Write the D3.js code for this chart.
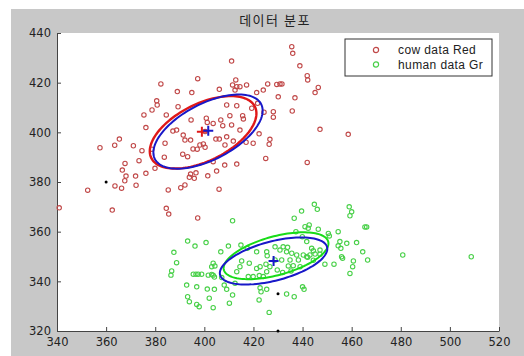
<!DOCTYPE html>
<html>
<head>
<meta charset="utf-8">
<script src="https://cdn.jsdelivr.net/npm/d3@7"></script>
<style>
  html, body { margin: 0; padding: 0; background: #fff; }
  svg { display: block; }
  .tick text { font-family: "DejaVu Sans", sans-serif; font-size: 11.5px; fill: #222; }
</style>
</head>
<body>
<div id="chart"></div>
<script>
// tick labels
const xTicks = [340, 360, 380, 400, 420, 440, 460, 480, 500, 520];
const yTicks = [320, 340, 360, 380, 400, 420, 440];

// cow data (red)
const cowX = [382.3, 397.3, 389.0, 394.9, 406.1, 380.6, 380.8, 378.7, 375.4, 384.5,
  389.3, 376.2, 394.6, 400.8, 401.2, 403.6, 406.7, 409.1, 388.7, 387.2,
  391.4, 394.4, 392.1, 365.4, 363.5, 357.5, 371.1, 374.6, 378.6, 400.3,
  404.7, 406.1, 384.0, 391.2, 395.4, 397.1, 398.2, 400.3, 399.6, 393.2,
  383.7, 373.4, 367.7, 379.9, 366.6, 376.2, 368.1, 367.6, 372.0, 394.4,
  393.9, 395.9, 396.6, 401.4, 405.0, 403.6, 408.3, 363.6, 366.3, 372.2,
  390.4, 392.1, 385.3, 406.0, 362.5, 384.5, 385.5, 397.3, 340.9, 352.5,
  435.6, 436.0, 411.1, 438.9, 441.9, 442.1, 446.4, 445.1, 412.8, 411.5,
  413.2, 414.5, 412.5, 417.2, 421.3, 424.0, 425.8, 429.5, 430.8, 431.6,
  430.1, 436.9, 413.2, 421.7, 419.3, 424.3, 428.1, 435.8, 428.1, 410.4,
  415.6, 415.9, 407.5, 411.1, 414.5, 422.3, 447.1, 458.6, 409.1, 411.8,
  426.7, 426.4, 417.0, 419.9, 408.4, 425.0, 413.2, 441.9];
const cowY = [419.5, 421.6, 416.4, 416.0, 417.3, 412.7, 411.0, 409.0, 407.0, 407.0,
  410.3, 401.9, 405.0, 405.7, 404.0, 403.6, 405.0, 411.0, 400.9, 400.5,
  398.9, 396.9, 396.9, 397.3, 394.8, 393.8, 394.6, 392.6, 393.2, 400.3,
  397.3, 397.3, 395.6, 391.2, 393.3, 393.2, 394.9, 394.0, 395.3, 390.2,
  390.0, 388.6, 387.5, 385.5, 384.8, 383.5, 382.4, 380.5, 382.4, 383.2,
  381.9, 381.5, 383.7, 382.5, 384.4, 388.2, 386.8, 378.4, 377.5, 378.7,
  377.7, 378.8, 376.8, 377.1, 368.7, 369.4, 367.1, 365.5, 369.6, 376.7,
  434.5, 431.8, 428.7, 426.8, 422.8, 421.1, 418.1, 416.0, 421.1, 419.1,
  418.4, 418.4, 417.0, 419.1, 416.0, 417.0, 419.5, 419.3, 419.5, 419.5,
  414.3, 413.9, 410.7, 411.7, 409.7, 408.1, 408.3, 408.6, 406.1, 406.7,
  406.7, 405.4, 402.7, 403.0, 400.9, 399.4, 401.2, 399.2, 398.2, 396.5,
  397.2, 395.2, 396.0, 395.6, 394.9, 389.5, 387.2, 387.9];

// human data (green)
const humanX = [411.5, 439.6, 436.6, 441.0, 442.3, 393.2, 396.2, 400.7, 387.6, 388.7,
  409.8, 406.7, 414.9, 417.5, 421.3, 425.4, 425.6, 428.8, 430.8, 433.9,
  433.5, 435.6, 437.6, 440.3, 441.7, 441.7, 403.6, 404.3, 403.0, 386.7,
  386.4, 395.5, 396.6, 397.5, 398.9, 401.6, 403.0, 403.6, 404.1, 407.1,
  415.2, 414.5, 418.3, 413.2, 421.3, 422.7, 425.1, 426.7, 417.9, 419.9,
  422.4, 424.0, 425.4, 429.7, 431.9, 434.2, 436.2, 435.3, 431.5, 428.8,
  434.9, 438.3, 439.0, 392.8, 396.9, 401.2, 404.1, 408.1, 409.1, 412.5,
  422.7, 423.1, 425.4, 440.0, 440.6, 393.2, 393.9, 411.5, 402.0, 396.9,
  397.9, 410.2, 403.6, 422.3, 433.5, 436.6, 426.4, 444.8, 446.0, 459.0,
  460.0, 459.3, 465.4, 466.1, 442.7, 446.4, 437.3, 450.5, 450.9, 454.5,
  439.9, 455.2, 454.5, 455.6, 458.0, 462.0, 464.5, 480.8, 443.7, 444.4,
  447.1, 455.9, 456.3, 460.7, 466.5, 449.1, 452.8, 460.4, 459.3, 432.1,
  442.1, 443.0, 445.1, 447.1, 444.4, 508.7];
const humanY = [364.4, 368.3, 365.4, 362.0, 361.4, 356.2, 354.2, 355.6, 351.7, 347.5,
  354.2, 351.9, 354.6, 353.3, 351.9, 351.9, 350.3, 353.9, 352.6, 353.7,
  351.9, 351.3, 350.6, 350.6, 349.9, 356.0, 347.3, 346.2, 345.9, 344.2,
  342.5, 342.9, 342.9, 342.9, 342.9, 342.5, 342.8, 342.5, 341.7, 341.5,
  348.2, 345.9, 347.3, 343.9, 345.2, 345.9, 346.9, 345.9, 341.9, 341.9,
  342.3, 341.9, 343.9, 344.6, 343.6, 346.2, 346.3, 344.2, 348.6, 348.6,
  348.6, 348.6, 345.9, 338.5, 337.8, 336.9, 336.8, 338.5, 336.8, 339.2,
  337.4, 335.8, 336.8, 337.8, 336.8, 333.8, 331.8, 334.5, 333.2, 330.7,
  329.8, 331.2, 329.4, 332.5, 334.9, 333.8, 327.5, 371.0, 369.0, 370.0,
  368.0, 366.4, 361.9, 361.9, 362.7, 361.0, 360.0, 359.3, 358.3, 360.0,
  358.0, 356.0, 354.3, 353.3, 355.3, 355.6, 351.9, 350.6, 353.3, 352.3,
  352.6, 349.9, 349.3, 348.2, 348.6, 346.9, 346.9, 345.9, 343.2, 353.9,
  349.7, 350.6, 351.0, 350.9, 348.5, 349.9];

// fitted ellipses: red / green estimates and blue model, drawn in this order
const ellColor = ['#e01818', '#18dc18', '#1818c8', '#1818c8'];
const ellCx = [399.5, 429.2, 401.5, 428.2];
const ellCy = [400.0, 350.3, 400.3, 348.2];
const ellA = [23.5, 22.0, 24.3, 22.5];
const ellB = [11.5, 7.8, 11.3, 7.9];
const ellAngle = [26, 15, 27, 14.4];

// centre crosses
const crossX = [399.0, 401.6, 428.2];
const crossY = [400.2, 400.6, 348.2];
const crossColor = ['#e01818', '#1818c8', '#1818c8'];

// black dots
const dotX = [360, 430, 430];
const dotY = [380, 335, 320];

const legendLabels = ['cow data Red', 'human data Gr'];
const legendColors = ['#c04848', '#48d048'];

const W = 524, H = 356;
const margin = { top: 33, right: 25, bottom: 25, left: 57 };

const svg = d3.select('#chart').append('svg')
  .attr('width', W)
  .attr('height', H);

// figure background
svg.append('rect')
  .attr('x', 11).attr('y', 9)
  .attr('width', W - 11).attr('height', H - 9)
  .attr('fill', '#c8c8c8');

const x = d3.scaleLinear().domain([340, 520]).range([margin.left, W - margin.right]);
const y = d3.scaleLinear().domain([320, 440]).range([H - margin.bottom, margin.top]);

svg.append('rect')
  .attr('x', x(340)).attr('y', y(440))
  .attr('width', x(520) - x(340)).attr('height', y(320) - y(440))
  .attr('fill', '#fff');

// axes, ticks pointing inward
const xAxis = svg.append('g')
  .attr('transform', 'translate(0,' + y(320) + ')')
  .call(d3.axisBottom(x).tickValues(xTicks).tickSizeInner(-4).tickSizeOuter(0).tickPadding(8));
const yAxis = svg.append('g')
  .attr('transform', 'translate(' + x(340) + ',0)')
  .call(d3.axisLeft(y).tickValues(yTicks).tickSizeInner(-4).tickSizeOuter(0).tickPadding(6));
[xAxis, yAxis].forEach((g) => {
  g.select('.domain').attr('stroke', '#444');
  g.selectAll('.tick line').attr('stroke', '#444');
});
xAxis.selectAll('.tick text').attr('dy', '0.6em');

// scatter points
const plot = svg.append('g');
plot.selectAll('circle.cow')
  .data(d3.zip(cowX, cowY))
  .enter()
  .append('circle')
  .attr('class', 'cow')
  .attr('cx', (d) => x(d[0]))
  .attr('cy', (d) => y(d[1]))
  .attr('r', 2.2)
  .attr('fill', 'none')
  .attr('stroke', legendColors[0])
  .attr('stroke-width', 1.1);
plot.selectAll('circle.human')
  .data(d3.zip(humanX, humanY))
  .enter()
  .append('circle')
  .attr('class', 'human')
  .attr('cx', (d) => x(d[0]))
  .attr('cy', (d) => y(d[1]))
  .attr('r', 2.2)
  .attr('fill', 'none')
  .attr('stroke', legendColors[1])
  .attr('stroke-width', 1.1);

// ellipse outlines
const ellipsePoints = (i) => d3.range(0, 360, 3).map((deg) => {
  const t = deg * Math.PI / 180, r = ellAngle[i] * Math.PI / 180;
  const ex = ellA[i] * Math.cos(t), ey = ellB[i] * Math.sin(t);
  return [ellCx[i] + ex * Math.cos(r) - ey * Math.sin(r),
          ellCy[i] + ex * Math.sin(r) + ey * Math.cos(r)];
});
const line = d3.line()
  .x((d) => x(d[0]))
  .y((d) => y(d[1]))
  .curve(d3.curveLinearClosed);
plot.selectAll('path.ell')
  .data(ellColor.map((c, i) => ellipsePoints(i)))
  .enter()
  .append('path')
  .attr('class', 'ell')
  .attr('d', line)
  .attr('fill', 'none')
  .attr('stroke', (d, i) => ellColor[i])
  .attr('stroke-width', (d, i) => (i === 0 ? 2.4 : 2));

// centre crosses
const cross = plot.selectAll('g.cross')
  .data(d3.zip(crossX, crossY, crossColor))
  .enter()
  .append('g')
  .attr('transform', (d) => 'translate(' + x(d[0]) + ',' + y(d[1]) + ')');
cross.append('path')
  .attr('d', 'M-5,0H5M0,-5V5')
  .attr('stroke', (d) => d[2])
  .attr('stroke-width', 2);

plot.selectAll('circle.dot')
  .data(d3.zip(dotX, dotY))
  .enter()
  .append('circle')
  .attr('cx', (d) => x(d[0]))
  .attr('cy', (d) => y(d[1]))
  .attr('r', 1.5)
  .attr('fill', '#000');

// title
svg.append('text')
  .attr('x', 275)
  .attr('y', 25)
  .attr('text-anchor', 'middle')
  .style('font-family', '"Noto Sans CJK KR", sans-serif')
  .style('font-size', '13px')
  .style('letter-spacing', '1.5px')
  .attr('fill', '#222')
  .text('데이터 분포');

// legend
const legend = svg.append('g').attr('transform', 'translate(345,39)');
legend.append('rect')
  .attr('width', 147).attr('height', 37)
  .attr('fill', '#fff')
  .attr('stroke', '#333');
const item = legend.selectAll('g.item')
  .data(legendLabels)
  .enter()
  .append('g')
  .attr('transform', (d, i) => 'translate(0,' + (11 + i * 14.5) + ')');
item.append('circle')
  .attr('cx', 31).attr('r', 2.6)
  .attr('fill', 'none')
  .attr('stroke', (d, i) => legendColors[i])
  .attr('stroke-width', 1.2);
item.append('text')
  .attr('x', 53).attr('dy', '0.35em')
  .style('font-family', '"Liberation Sans", Arial, sans-serif')
  .style('font-size', '12px')
  .style('letter-spacing', '0.4px')
  .attr('fill', '#222')
  .text((d) => d);
</script>
</body>
</html>
